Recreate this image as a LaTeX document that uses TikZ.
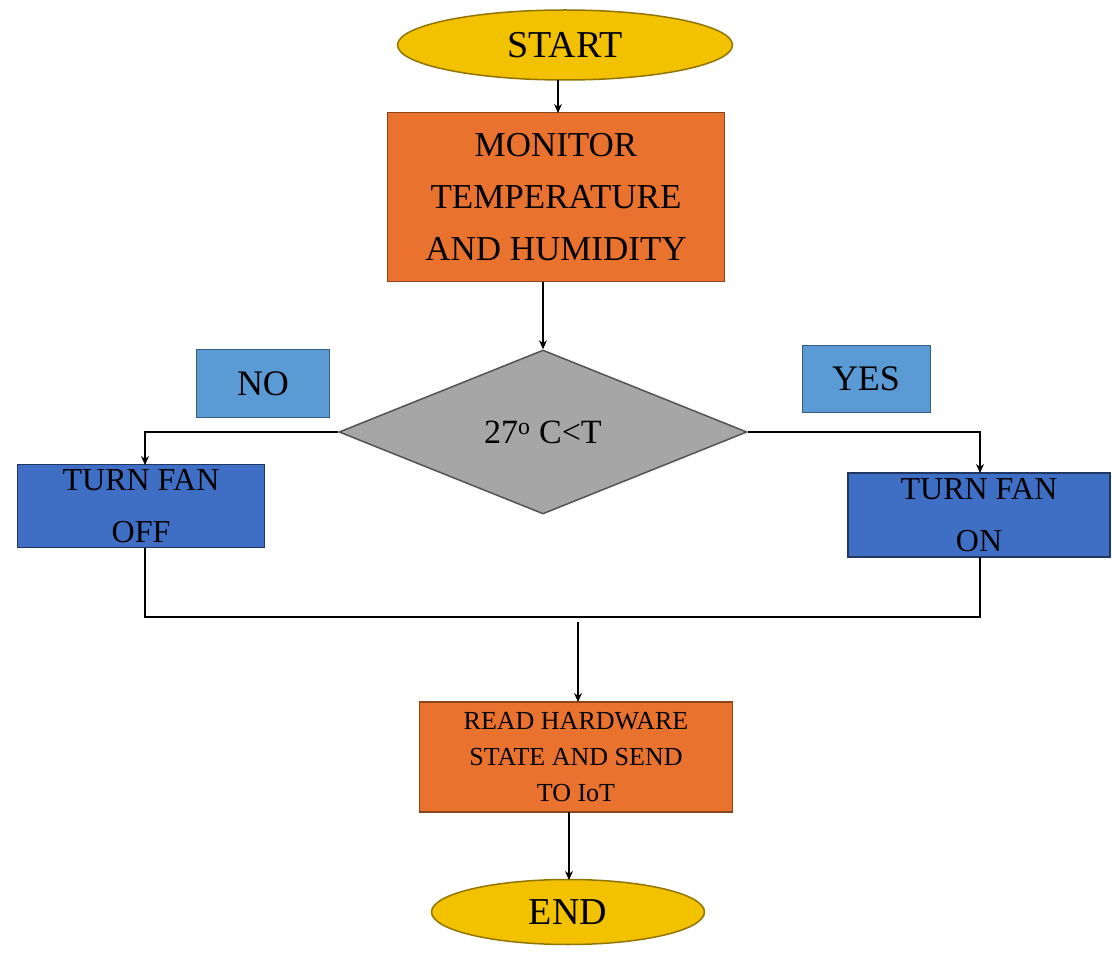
\documentclass[tikz,border=0pt]{standalone}
\usepackage{fontspec}
\setmainfont{Liberation Serif}
\usetikzlibrary{shapes.geometric,arrows.meta}
\definecolor{gold}{HTML}{F2C200}
\definecolor{orng}{HTML}{E8722E}
\definecolor{lblue}{HTML}{5B9BD5}
\definecolor{dblue}{HTML}{3F6FC4}
\definecolor{gry}{HTML}{A6A6A6}
\tikzset{
 term/.style={ellipse,draw=gold!60!black,fill=gold,line width=1.5pt,inner sep=0pt},
 obox/.style={draw=orng!60!black,fill=orng,line width=1.5pt,align=center,inner sep=0pt},
 lbox/.style={draw=lblue!60!black,fill=lblue,line width=1pt,inner sep=0pt},
 bbox/.style={draw=dblue!50!black,fill=dblue,line width=1.5pt,align=center,inner sep=0pt},
 ln/.style={line width=1.2pt},
 arr/.style={ln,-{Stealth[length=9pt,width=8pt]}}
}
\begin{document}
\begin{tikzpicture}[x=1pt,y=-1pt]
\useasboundingbox (0,0) rectangle (1112,965);
\node[term,minimum width=335,minimum height=70,font=\fontsize{38}{40}\selectfont] (start) at (565,45) {START};
\node[obox,minimum width=337,minimum height=169,font=\fontsize{35}{52}\selectfont] (mon) at (556,197) {MONITOR\\TEMPERATURE\\AND HUMIDITY};
\node[diamond,draw=gry!50!black,fill=gry,line width=1.5pt,minimum width=408,minimum height=164,aspect=2.5,inner sep=0pt,font=\fontsize{34}{36}\selectfont] (dec) at (543,432) {27\textsuperscript{o} C<T};
\node[lbox,minimum width=133,minimum height=68,font=\fontsize{36}{38}\selectfont] (no) at (263,384) {NO};
\node[lbox,minimum width=128,minimum height=67,font=\fontsize{36}{38}\selectfont] (yes) at (866,379) {YES};
\node[bbox,minimum width=247,minimum height=83,font=\fontsize{32}{52}\selectfont] (off) at (141,506) {TURN FAN\\OFF};
\node[bbox,minimum width=262,minimum height=84,font=\fontsize{32}{52}\selectfont] (on) at (979,515) {TURN FAN\\ON};
\node[obox,minimum width=313,minimum height=110,font=\fontsize{26}{36}\selectfont] (read) at (576,757) {READ HARDWARE\\STATE AND SEND\\TO IoT};
\node[term,minimum width=273,minimum height=65,font=\fontsize{38}{40}\selectfont] (end) at (568,912) {END};
\draw[arr] (558,80) -- (558,113);
\draw[arr] (543,282) -- (dec.north);
\draw[arr] (dec.west) -- (145,432) -- (145,465);
\draw[arr] (dec.east) -- (980,432) -- (980,473);
\draw[ln] (145,548) -- (145,617) -- (980,617) -- (980,557);
\draw[arr] (578,622) -- (578,702);
\draw[arr] (569,812) -- (569,880);
\end{tikzpicture}
\end{document}
